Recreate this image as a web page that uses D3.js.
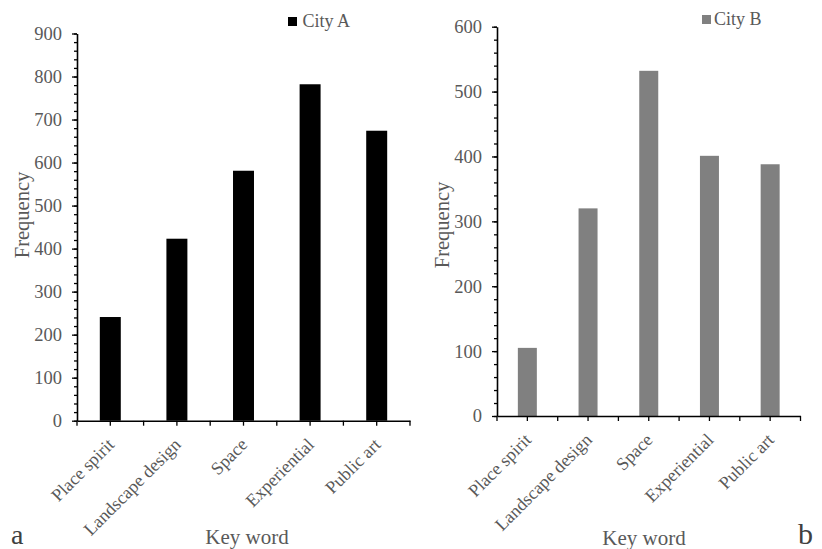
<!DOCTYPE html>
<html>
<head>
<meta charset="utf-8">
<script src="https://cdn.jsdelivr.net/npm/d3@7"></script>
<style>
  body { margin: 0; background: #fff; }
  text { font-family: "Liberation Serif", "Times New Roman", serif; }
</style>
</head>
<body>
<script>
var keywords = ["Place spirit", "Landscape design", "Space", "Experiential", "Public art"];
var cityA = [241, 423, 581, 782, 674];
var cityB = [105, 320, 532, 401, 388];
var ticksA = [0, 100, 200, 300, 400, 500, 600, 700, 800, 900];
var ticksB = [0, 100, 200, 300, 400, 500, 600];

var svg = d3.select("body").append("svg")
    .attr("width", 822)
    .attr("height", 549);

var textGrey = "#595959";

// one panel = one bar chart
function panel(cfg) {
  var x = d3.scaleBand()
      .domain(keywords)
      .range([cfg.left, cfg.right])
      .paddingInner(cfg.pad)
      .paddingOuter(cfg.pad / 2);

  var y = d3.scaleLinear()
      .domain([0, cfg.max])
      .range([cfg.bottom, cfg.top]);

  var g = svg.append("g");

  // bars
  g.selectAll("rect.bar")
      .data(cfg.values)
      .enter().append("rect")
      .attr("class", "bar")
      .attr("x", function(d, i) { return x(keywords[i]); })
      .attr("width", x.bandwidth())
      .attr("y", function(d) { return y(d); })
      .attr("height", function(d) { return y(0) - y(d); })
      .attr("fill", cfg.color);

  // minor ticks on y (every 20)
  var minor = d3.range(0, cfg.max + 1, 20);
  var yMinor = d3.axisLeft(y).tickValues(minor).tickSize(3).tickFormat("");
  g.append("g")
      .attr("transform", "translate(" + cfg.left + ",0)")
      .call(yMinor)
      .call(function(s) { s.select(".domain").remove(); })
      .selectAll("line").attr("stroke", "#000").attr("stroke-width", 1.3);

  // major y axis
  var yAxis = d3.axisLeft(y).tickValues(cfg.ticks).tickSize(5).tickPadding(10).tickSizeOuter(0);
  var ya = g.append("g")
      .attr("transform", "translate(" + cfg.left + ",0)")
      .call(yAxis);
  ya.select(".domain").attr("stroke", "#000").attr("stroke-width", 1.6);
  ya.selectAll("line").attr("stroke", "#000").attr("stroke-width", 1.3);
  ya.selectAll("text")
      .attr("font-family", "Liberation Serif, serif")
      .attr("font-size", "18.5px")
      .attr("fill", textGrey);

  // x axis: ticks at category centres and boundaries
  var step = x.step();
  var bounds = d3.range(keywords.length + 1).map(function(i) { return cfg.left + i * step; });
  var xa = g.append("g")
      .attr("transform", "translate(0," + cfg.bottom + ")")
      .call(d3.axisBottom(x).tickSize(5).tickSizeOuter(0).tickFormat(""));
  xa.select(".domain").attr("stroke", "#000").attr("stroke-width", 1.6);
  xa.selectAll("line").attr("stroke", "#000").attr("stroke-width", 1.3);
  xa.selectAll("line.bound")
      .data(bounds)
      .enter().append("line")
      .attr("class", "bound")
      .attr("x1", function(d) { return d; })
      .attr("x2", function(d) { return d; })
      .attr("y1", 0)
      .attr("y2", 5)
      .attr("stroke", "#000")
      .attr("stroke-width", 1.3);

  // rotated category labels
  g.selectAll("text.cat")
      .data(keywords)
      .enter().append("text")
      .attr("class", "cat")
      .attr("text-anchor", "end")
      .attr("font-size", "18px")
      .attr("fill", textGrey)
      .attr("transform", function(d) {
        return "translate(" + (x(d) + x.bandwidth() / 2 + 5) + "," + (cfg.bottom + 25) + ") rotate(-45)";
      })
      .text(function(d) { return d; });

  // axis titles
  g.append("text")
      .attr("transform", "translate(" + cfg.yTitleX + "," + cfg.yTitleY + ") rotate(-90)")
      .attr("text-anchor", "middle")
      .attr("font-size", "20.5px")
      .attr("fill", textGrey)
      .text("Frequency");

  g.append("text")
      .attr("x", cfg.xTitleX)
      .attr("y", cfg.xTitleY)
      .attr("text-anchor", "middle")
      .attr("font-size", "21px")
      .attr("fill", textGrey)
      .text("Key word");

  // legend
  g.append("rect")
      .attr("x", cfg.legX)
      .attr("y", cfg.legY - 10)
      .attr("width", 9)
      .attr("height", 9)
      .attr("fill", cfg.color);
  g.append("text")
      .attr("x", cfg.legTextX)
      .attr("y", cfg.legY)
      .attr("font-size", "18px")
      .attr("fill", textGrey)
      .text(cfg.name);

  // panel letter
  g.append("text")
      .attr("x", cfg.letterX)
      .attr("y", 544)
      .attr("font-size", cfg.letterSize)
      .attr("fill", "#404040")
      .text(cfg.letter);
}

panel({
  values: cityA, ticks: ticksA, max: 900, color: "#000000", name: "City A",
  left: 77, right: 410, top: 33.5, bottom: 420.7, pad: 0.685,
  yTitleX: 29, yTitleY: 215, xTitleX: 247, xTitleY: 544,
  legX: 288, legY: 27, legTextX: 302.5, letter: "a", letterX: 11, letterSize: "28px"
});

panel({
  values: cityB, ticks: ticksB, max: 600, color: "#808080", name: "City B",
  left: 497, right: 800.5, top: 26.7, bottom: 416, pad: 0.687,
  yTitleX: 449, yTitleY: 225, xTitleX: 644, xTitleY: 545,
  legX: 702, legY: 25, legTextX: 714, letter: "b", letterX: 798, letterSize: "30px"
});
</script>
</body>
</html>
